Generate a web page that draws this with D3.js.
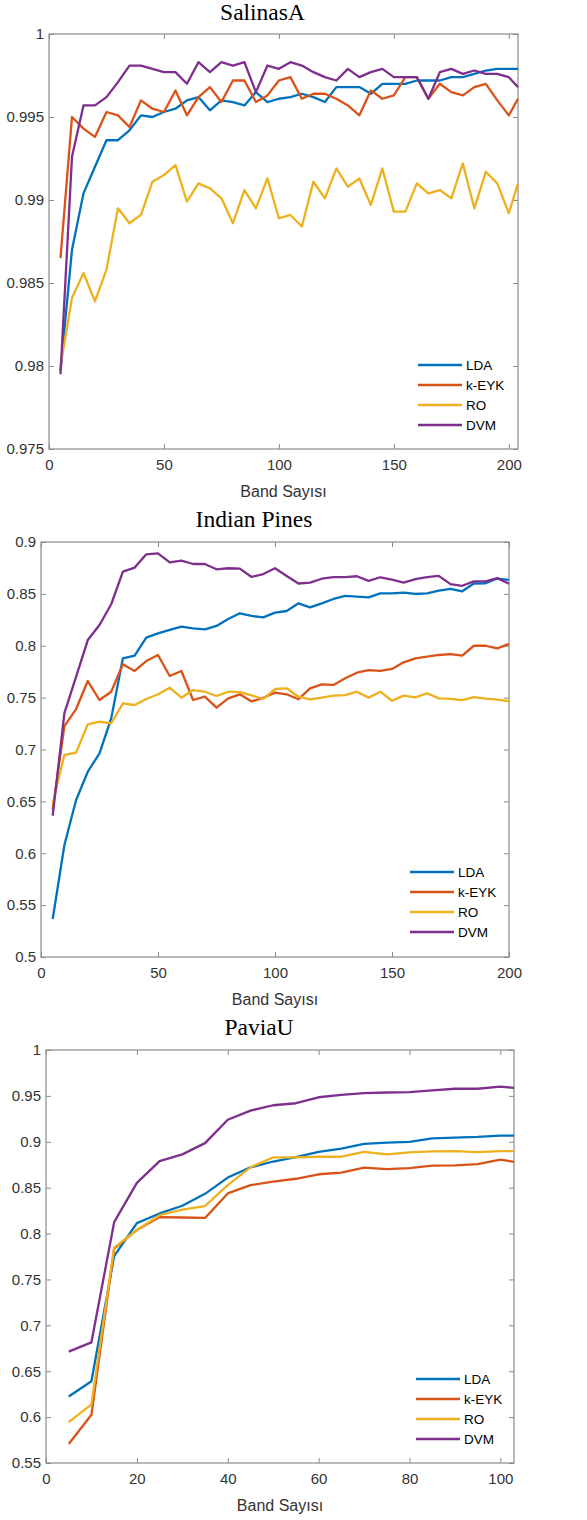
<!DOCTYPE html>
<html>
<head>
<meta charset="utf-8">
<script src="https://cdn.jsdelivr.net/npm/d3@7"></script>
<style>
  html, body { margin: 0; padding: 0; background: #ffffff; }
  svg { display: block; }
</style>
</head>
<body>
<svg id="chart" width="587" height="1520"></svg>
<script>
// ---------------- DATA ----------------
const seriesNames = ["LDA", "k-EYK", "RO", "DVM"];
const xAxisLabel = "Band Sayısı";

// SalinasA
const salinasBands = [5,10,15,20,25,30,35,40,45,50,55,60,65,70,75,80,85,90,95,100,105,110,115,120,125,130,135,140,145,150,155,160,165,170,175,180,185,190,195,200,204];
const salinasLDA  = [0.9797,0.9870,0.9904,0.9920,0.9936,0.9936,0.9942,0.9951,0.9950,0.9953,0.9955,0.9960,0.9962,0.9954,0.9960,0.9959,0.9957,0.9965,0.9959,0.9961,0.9962,0.9964,0.9962,0.9959,0.9968,0.9968,0.9968,0.9964,0.9970,0.9970,0.9970,0.9972,0.9972,0.9972,0.9974,0.9974,0.9976,0.9978,0.9979,0.9979,0.9979];
const salinasKEYK = [0.9865,0.9950,0.9943,0.9938,0.9953,0.9951,0.9944,0.9960,0.9955,0.9953,0.9966,0.9951,0.9962,0.9968,0.9959,0.9972,0.9972,0.9959,0.9963,0.9972,0.9974,0.9961,0.9964,0.9964,0.9961,0.9957,0.9951,0.9966,0.9961,0.9963,0.9974,0.9974,0.9961,0.9970,0.9965,0.9963,0.9968,0.9970,0.9960,0.9951,0.9961];
const salinasRO   = [0.9800,0.9841,0.9856,0.9839,0.9858,0.9895,0.9886,0.9891,0.9911,0.9915,0.9921,0.9899,0.9910,0.9907,0.9901,0.9886,0.9906,0.9895,0.9913,0.9889,0.9891,0.9884,0.9911,0.9901,0.9919,0.9908,0.9913,0.9897,0.9919,0.9893,0.9893,0.9910,0.9904,0.9906,0.9901,0.9922,0.9895,0.9917,0.9910,0.9892,0.9910];
const salinasDVM  = [0.9795,0.9926,0.9957,0.9957,0.9962,0.9971,0.9981,0.9981,0.9979,0.9977,0.9977,0.9970,0.9983,0.9977,0.9983,0.9981,0.9983,0.9965,0.9981,0.9979,0.9983,0.9981,0.9977,0.9974,0.9972,0.9979,0.9974,0.9977,0.9979,0.9974,0.9974,0.9974,0.9961,0.9977,0.9979,0.9976,0.9978,0.9976,0.9976,0.9974,0.9968];
const salinasXTicks = [0,50,100,150,200];
const salinasYTicks = [0.975,0.98,0.985,0.99,0.995,1];

// Indian Pines
const pinesBands = [5,10,15,20,25,30,35,40,45,50,55,60,65,70,75,80,85,90,95,100,105,110,115,120,125,130,135,140,145,150,155,160,165,170,175,180,185,190,195,200];
const pinesLDA  = [0.5366,0.6080,0.6513,0.6786,0.6963,0.7300,0.7879,0.7904,0.8078,0.8120,0.8152,0.8184,0.8168,0.8158,0.8191,0.8258,0.8313,0.8287,0.8274,0.8319,0.8335,0.8409,0.8370,0.8409,0.8451,0.8480,0.8473,0.8467,0.8505,0.8505,0.8512,0.8499,0.8505,0.8531,0.8548,0.8525,0.8600,0.8602,0.8648,0.8635];
const pinesKEYK = [0.6420,0.7225,0.7390,0.7660,0.7477,0.7557,0.7821,0.7757,0.7853,0.7911,0.7708,0.7757,0.7477,0.7509,0.7403,0.7493,0.7532,0.7463,0.7499,0.7548,0.7532,0.7484,0.7590,0.7628,0.7622,0.7686,0.7740,0.7766,0.7757,0.7776,0.7840,0.7879,0.7895,0.7911,0.7920,0.7905,0.8000,0.8000,0.7975,0.8018];
const pinesRO   = [0.6480,0.6947,0.6970,0.7243,0.7268,0.7252,0.7445,0.7429,0.7487,0.7532,0.7596,0.7499,0.7573,0.7557,0.7516,0.7557,0.7552,0.7522,0.7487,0.7583,0.7590,0.7509,0.7484,0.7500,0.7519,0.7525,0.7557,0.7500,0.7557,0.7470,0.7519,0.7503,0.7542,0.7493,0.7487,0.7475,0.7505,0.7490,0.7480,0.7465];
const pinesDVM  = [0.6362,0.7350,0.7702,0.8055,0.8200,0.8400,0.8714,0.8753,0.8881,0.8891,0.8804,0.8820,0.8788,0.8788,0.8737,0.8747,0.8743,0.8663,0.8691,0.8747,0.8673,0.8600,0.8609,0.8646,0.8662,0.8662,0.8670,0.8625,0.8660,0.8638,0.8609,0.8643,0.8661,0.8673,0.8594,0.8578,0.8620,0.8620,0.8652,0.8598];
const pinesXTicks = [0,50,100,150,200];
const pinesYTicks = [0.5,0.55,0.6,0.65,0.7,0.75,0.8,0.85,0.9];

// PaviaU
const paviaBands = [5,10,15,20,25,30,35,40,45,50,55,60,65,70,75,80,85,90,95,100,103];
const paviaLDA  = [0.6225,0.6390,0.7755,0.8114,0.8219,0.8303,0.8433,0.8610,0.8721,0.8785,0.8833,0.8891,0.8925,0.8978,0.8991,0.9000,0.9037,0.9045,0.9053,0.9068,0.9068];
const paviaKEYK = [0.5707,0.6025,0.7836,0.8040,0.8180,0.8175,0.8170,0.8437,0.8527,0.8567,0.8597,0.8646,0.8664,0.8719,0.8701,0.8713,0.8741,0.8742,0.8756,0.8805,0.8782];
const paviaRO   = [0.5946,0.6138,0.7847,0.8039,0.8200,0.8260,0.8300,0.8528,0.8722,0.8830,0.8830,0.8837,0.8837,0.8890,0.8862,0.8885,0.8895,0.8898,0.8888,0.8898,0.8898];
const paviaDVM  = [0.6714,0.6815,0.8124,0.8553,0.8790,0.8863,0.8985,0.9240,0.9340,0.9398,0.9420,0.9485,0.9510,0.9530,0.9537,0.9542,0.9560,0.9578,0.9578,0.9600,0.9588];
const paviaXTicks = [0,20,40,60,80,100];
const paviaYTicks = [0.55,0.6,0.65,0.7,0.75,0.8,0.85,0.9,0.95,1];

// ---------------- STYLE / LAYOUT ----------------
const colors = ["#0072BD", "#D95319", "#EDB120", "#7E2F8E"];
const sansFont = "'Liberation Sans', Arial, Helvetica, sans-serif";
const serifFont = "'Liberation Serif', 'Times New Roman', serif";
const frameColor = "#8a8a8a";
const textColor = "#333333";

const panels = [
  { title: "SalinasA", bands: salinasBands, series: [salinasLDA, salinasKEYK, salinasRO, salinasDVM],
    xDomain: [0, 204], xTicks: salinasXTicks, yDomain: [0.975, 1], yTicks: salinasYTicks,
    box: { l: 49, r: 518, t: 34, b: 449 }, titleY: 20, legend: { x: 418, y: 365 } },
  { title: "Indian Pines", bands: pinesBands, series: [pinesLDA, pinesKEYK, pinesRO, pinesDVM],
    xDomain: [0, 200], xTicks: pinesXTicks, yDomain: [0.5, 0.9], yTicks: pinesYTicks,
    box: { l: 41, r: 509, t: 542, b: 957 }, titleY: 527, legend: { x: 410, y: 872 } },
  { title: "PaviaU", bands: paviaBands, series: [paviaLDA, paviaKEYK, paviaRO, paviaDVM],
    xDomain: [0, 103], xTicks: paviaXTicks, yDomain: [0.55, 1], yTicks: paviaYTicks,
    box: { l: 46, r: 514, t: 1050, b: 1463 }, titleY: 1035, legend: { x: 416, y: 1379 } }
];

const svg = d3.select("#chart");
const fmt = d3.format("~g");
const tickLen = 5;

panels.forEach(p => {
  const g = svg.append("g");
  const x = d3.scaleLinear().domain(p.xDomain).range([p.box.l, p.box.r]);
  const y = d3.scaleLinear().domain(p.yDomain).range([p.box.b, p.box.t]);

  // title
  g.append("text")
    .attr("x", (p.box.l + p.box.r) / 2 - 21)
    .attr("y", p.titleY)
    .attr("text-anchor", "middle")
    .attr("font-family", serifFont)
    .attr("font-size", 23.5)
    .attr("font-weight", "normal")
    .attr("fill", "#000")
    .text(p.title);

  // axes (ticks inward, MATLAB style box)
  const styleAxis = (sel, showLabels) => {
    sel.select(".domain").remove();
    sel.selectAll(".tick line").attr("stroke", frameColor).attr("stroke-width", 1);
    sel.selectAll(".tick text")
      .attr("font-family", sansFont).attr("font-size", 15).attr("fill", textColor);
    if (!showLabels) sel.selectAll(".tick text").remove();
  };

  const bottom = g.append("g").attr("transform", `translate(0,${p.box.b})`)
    .call(d3.axisBottom(x).tickValues(p.xTicks).tickFormat(fmt).tickSizeInner(-tickLen).tickSizeOuter(0));
  styleAxis(bottom, true);
  bottom.selectAll(".tick text").attr("dy", "0.35em").attr("y", 16);

  const top = g.append("g").attr("transform", `translate(0,${p.box.t})`)
    .call(d3.axisTop(x).tickValues(p.xTicks).tickSizeInner(-tickLen).tickSizeOuter(0));
  styleAxis(top, false);

  const left = g.append("g").attr("transform", `translate(${p.box.l},0)`)
    .call(d3.axisLeft(y).tickValues(p.yTicks).tickFormat(fmt).tickSizeInner(-tickLen).tickSizeOuter(0));
  styleAxis(left, true);
  left.selectAll(".tick text").attr("x", -5);

  const right = g.append("g").attr("transform", `translate(${p.box.r},0)`)
    .call(d3.axisRight(y).tickValues(p.yTicks).tickSizeInner(-tickLen).tickSizeOuter(0));
  styleAxis(right, false);

  // frame
  g.append("rect")
    .attr("x", p.box.l).attr("y", p.box.t)
    .attr("width", p.box.r - p.box.l).attr("height", p.box.b - p.box.t)
    .attr("fill", "none").attr("stroke", frameColor).attr("stroke-width", 1.2);

  // x label
  g.append("text")
    .attr("x", (p.box.l + p.box.r) / 2)
    .attr("y", p.box.b + 42)
    .attr("dy", "0.35em")
    .attr("text-anchor", "middle")
    .attr("font-family", sansFont)
    .attr("font-size", 16)
    .attr("fill", textColor)
    .text(xAxisLabel);

  // lines
  const line = d3.line().x(d => x(d[0])).y(d => y(d[1]));
  p.series.forEach((vals, i) => {
    const pts = p.bands.map((b, k) => [b, vals[k]]);
    g.append("path")
      .attr("d", line(pts))
      .attr("fill", "none")
      .attr("stroke", colors[i])
      .attr("stroke-width", 2.3)
      .attr("stroke-linejoin", "round");
  });

  // legend
  const lg = g.append("g").attr("transform", `translate(${p.legend.x},${p.legend.y})`);
  seriesNames.forEach((name, i) => {
    const yy = i * 20;
    lg.append("line").attr("x1", 0).attr("x2", 44).attr("y1", yy).attr("y2", yy)
      .attr("stroke", colors[i]).attr("stroke-width", 2.3);
    lg.append("text").attr("x", 48).attr("y", yy).attr("dy", "0.35em")
      .attr("font-family", sansFont).attr("font-size", 13.5).attr("fill", "#000")
      .text(name);
  });
});
</script>
</body>
</html>
